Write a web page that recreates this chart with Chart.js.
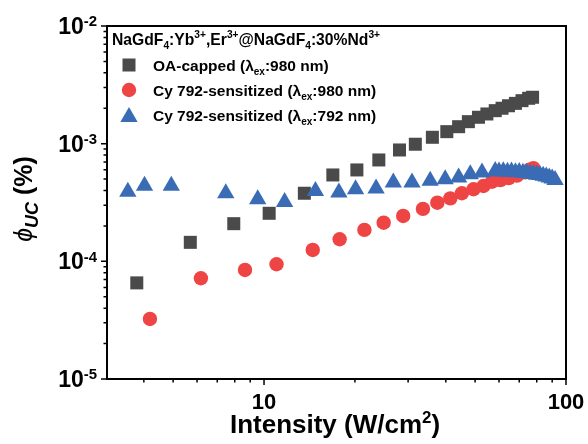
<!DOCTYPE html>
<html>
<head>
<meta charset="utf-8">
<script src="https://cdn.jsdelivr.net/npm/chart.js@4.4.0/dist/chart.umd.min.js"></script>
<style>
  html,body{margin:0;padding:0;background:#fff;}
  #wrap{width:588px;height:444px;position:relative;}
</style>
</head>
<body>
<div id="wrap"><canvas id="c"></canvas></div>
<script>
// ---------- data ----------
const oaX = [3.79, 5.70, 7.94, 10.4, 13.6, 16.9, 20.3, 24.0, 28.1, 31.7, 36.1, 40.3, 44.1, 47.5, 51.3, 54.7, 58.3, 61.4, 64.5, 68.0, 71.5, 75.2, 77.5];
const oaY = [6.56e-5, 1.45e-4, 2.09e-4, 2.56e-4, 3.79e-4, 5.42e-4, 5.98e-4, 7.27e-4, 8.84e-4, 9.89e-4, 1.133e-3, 1.265e-3, 1.394e-3, 1.538e-3, 1.676e-3, 1.788e-3, 1.908e-3, 2.0e-3, 2.10e-3, 2.20e-3, 2.32e-3, 2.43e-3, 2.48e-3];

const cy980X = [4.19, 6.18, 8.65, 11.0, 14.5, 17.8, 21.5, 24.9, 28.9, 33.6, 37.5, 41.4, 45.2, 49.4, 53.3, 56.9, 60.6, 64.6, 68.8, 73.3, 75.5, 78.0];
const cy980Y = [3.24e-5, 7.18e-5, 8.45e-5, 9.44e-5, 1.25e-4, 1.54e-4, 1.85e-4, 2.13e-4, 2.43e-4, 2.79e-4, 3.15e-4, 3.43e-4, 3.79e-4, 4.10e-4, 4.37e-4, 4.75e-4, 4.90e-4, 5.10e-4, 5.35e-4, 5.70e-4, 6.00e-4, 6.20e-4];

const cy792X = [3.54, 4.02, 4.93, 7.47, 9.53, 11.7, 14.8, 17.7, 20.1, 23.5, 26.8, 30.9, 35.5, 39.8, 44.1, 48.2, 52.7, 58.3, 60, 62, 64, 66, 68, 70, 72, 74, 76, 78, 80, 82, 84, 86, 88, 90, 92];
const cy792Y = [3.90e-4, 4.38e-4, 4.38e-4, 3.79e-4, 3.37e-4, 3.20e-4, 3.97e-4, 3.85e-4, 4.09e-4, 4.15e-4, 4.67e-4, 4.67e-4, 4.83e-4, 4.99e-4, 5.15e-4, 5.49e-4, 5.68e-4, 5.87e-4, 5.80e-4, 5.84e-4, 5.78e-4, 5.80e-4, 5.72e-4, 5.74e-4, 5.66e-4, 5.62e-4, 5.55e-4, 5.52e-4, 5.45e-4, 5.42e-4, 5.33e-4, 5.25e-4, 5.15e-4, 5.05e-4, 4.92e-4];

const seriesNames = ["OA-capped (\\lambda_{ex}:980 nm)", "Cy 792-sensitized (\\lambda_{ex}:980 nm)", "Cy 792-sensitized (\\lambda_{ex}:792 nm)"];
const legendTitle = "NaGdF_{4}:Yb^{3+},Er^{3+}@NaGdF_{4}:30%Nd^{3+}";
const xMajorTicks = [10, 100];
const xMinorTicks = [4, 5, 6, 7, 8, 9, 20, 30, 40, 50, 60, 70, 80, 90];
const yMajorTicks = [1e-5, 1e-4, 1e-3, 1e-2];
const yTickExp = ["-5", "-4", "-3", "-2"];
const yMinorTicks = [2e-5,3e-5,4e-5,5e-5,6e-5,7e-5,8e-5,9e-5,2e-4,3e-4,4e-4,5e-4,6e-4,7e-4,8e-4,9e-4,2e-3,3e-3,4e-3,5e-3,6e-3,7e-3,8e-3,9e-3];
const xTitle = "Intensity (W/cm^{2})";

const GRAY = '#4a4a4a', RED = '#ef4444', BLUE = '#3a6cb6';
const FAM = '"Liberation Sans", Arial, Helvetica, sans-serif';

function pts(xs, ys){ return xs.map((v,i)=>({x:v, y:ys[i]})); }

// mini markup parser: _{sub} ^{sup} \lambda
function parse(str){
  str = str.replace(/\\lambda/g, 'λ');
  const out = [];
  const re = /(_\{[^}]*\}|\^\{[^}]*\})/;
  str.split(re).forEach(p => {
    if (!p) return;
    if (p.startsWith('_{')) out.push({t:p.slice(2,-1), s:'sub'});
    else if (p.startsWith('^{')) out.push({t:p.slice(2,-1), s:'sup'});
    else out.push({t:p, s:'n'});
  });
  return out;
}
function rich(ctx, segs, x, y, base, align, opt){
  opt = opt || {};
  const supShift = opt.supShift != null ? opt.supShift : 0.42;
  const subShift = opt.subShift != null ? opt.subShift : 0.28;
  const ratio = opt.ratio || 0.65;
  const parts = segs.map(g => {
    const sz = g.s === 'n' ? base : base*ratio;
    const font = (g.i ? 'italic ' : '') + (g.b === false ? '' : 'bold ') + sz + 'px ' + FAM;
    ctx.font = font;
    const w = ctx.measureText(g.t).width;
    const dy = g.s === 'sub' ? base*subShift : g.s === 'sup' ? -base*supShift : 0;
    return {t:g.t, font, w, dy};
  });
  const total = parts.reduce((s,p)=>s+p.w, 0);
  let cx = align === 'center' ? x - total/2 : align === 'right' ? x - total : x;
  ctx.textAlign = 'left'; ctx.textBaseline = 'alphabetic';
  parts.forEach(p => { ctx.font = p.font; ctx.fillText(p.t, cx, y + p.dy); cx += p.w; });
  return total;
}

function marker(ctx, style, r, color, x, y){
  ctx.fillStyle = color; ctx.strokeStyle = color;
  if (Chart.helpers && Chart.helpers.drawPoint) {
    Chart.helpers.drawPoint(ctx, {pointStyle: style, radius: r, rotation: 0, borderWidth: 0}, x, y);
  }
}

const deco = {
  id: 'deco',
  afterDraw(chart){
    const ctx = chart.ctx, a = chart.chartArea, xs = chart.scales.x, ys = chart.scales.y;
    ctx.save();
    ctx.fillStyle = '#000'; ctx.strokeStyle = '#000';
    // frame
    ctx.lineWidth = 2;
    ctx.strokeRect(a.left, a.top, a.right - a.left, a.bottom - a.top);
    // ticks
    ctx.lineWidth = 1.5;
    ctx.beginPath();
    xMajorTicks.forEach(v => { const px = xs.getPixelForValue(v); ctx.moveTo(px, a.bottom); ctx.lineTo(px, a.bottom + 6); });
    xMinorTicks.forEach(v => { const px = xs.getPixelForValue(v); ctx.moveTo(px, a.bottom); ctx.lineTo(px, a.bottom + 3.5); });
    yMajorTicks.forEach(v => { const py = ys.getPixelForValue(v); ctx.moveTo(a.left, py); ctx.lineTo(a.left - 6, py); });
    yMinorTicks.forEach(v => { const py = ys.getPixelForValue(v); ctx.moveTo(a.left, py); ctx.lineTo(a.left - 3.5, py); });
    ctx.stroke();
    // x tick labels
    xMajorTicks.forEach(v => {
      const px = xs.getPixelForValue(v);
      rich(ctx, [{t:String(v), s:'n'}], px, a.bottom + 30, 22, 'center');
    });
    // y tick labels
    yMajorTicks.forEach((v, i) => {
      const py = ys.getPixelForValue(v);
      rich(ctx, [{t:'10', s:'n'}, {t:yTickExp[i], s:'sup'}], a.left - 10, py + 8, 23, 'right', {supShift:0.34});
    });
    // x title
    rich(ctx, parse(xTitle), 335, 433, 26, 'center', {supShift:0.4});
    // y title
    ctx.save();
    ctx.translate(32, 199);
    ctx.rotate(-Math.PI/2);
    rich(ctx, [{t:'ϕ', s:'n', i:true, b:false}, {t:'UC', s:'sub', i:true}, {t:' (%)', s:'n'}], 0, 0, 25, 'center', {subShift:0.25, ratio:0.72});
    ctx.restore();
    // legend
    ctx.fillStyle = '#000';
    rich(ctx, parse(legendTitle), 112, 45, 15.7, 'left');
    const styles = [['rect', 9.2, GRAY], ['circle', 7.2, RED], ['triangle', 10, BLUE]];
    const rowsY = [71, 96, 121];
    styles.forEach((s, i) => {
      const my = rowsY[i] - 6 + (s[0] === 'triangle' ? 2 : 0);
      marker(ctx, s[0], s[1], s[2], 129, my);
      ctx.fillStyle = '#000';
      rich(ctx, parse(seriesNames[i]), 153, rowsY[i], 15.5, 'left');
    });
    ctx.restore();
  }
};

new Chart(document.getElementById('c'), {
  type: 'scatter',
  data: {
    datasets: [
      {label: 'blue', data: pts(cy792X, cy792Y), pointStyle: 'triangle', pointRadius: 10, pointHoverRadius: 10, backgroundColor: BLUE, borderColor: BLUE, borderWidth: 0},
      {label: 'gray', data: pts(oaX, oaY), pointStyle: 'rect', pointRadius: 9.2, pointHoverRadius: 9.2, backgroundColor: GRAY, borderColor: GRAY, borderWidth: 0},
      {label: 'red', data: pts(cy980X, cy980Y), pointStyle: 'circle', pointRadius: 7.2, pointHoverRadius: 7.2, backgroundColor: RED, borderColor: RED, borderWidth: 0}
    ]
  },
  options: {
    responsive: true,
    maintainAspectRatio: false,
    animation: false,
    devicePixelRatio: 1,
    layout: {padding: {left: 0, top: 26, right: 22, bottom: 0}},
    plugins: {legend: {display: false}, tooltip: {enabled: false}},
    scales: {
      x: {
        type: 'logarithmic', min: 3.02, max: 100,
        grid: {display: false}, border: {display: false},
        ticks: {display: false},
        afterFit: s => { s.height = 65; }
      },
      y: {
        type: 'logarithmic', min: 1e-5, max: 1e-2,
        grid: {display: false}, border: {display: false},
        ticks: {display: false},
        afterFit: s => { s.width = 107; }
      }
    }
  },
  plugins: [deco]
});
</script>
</body>
</html>
